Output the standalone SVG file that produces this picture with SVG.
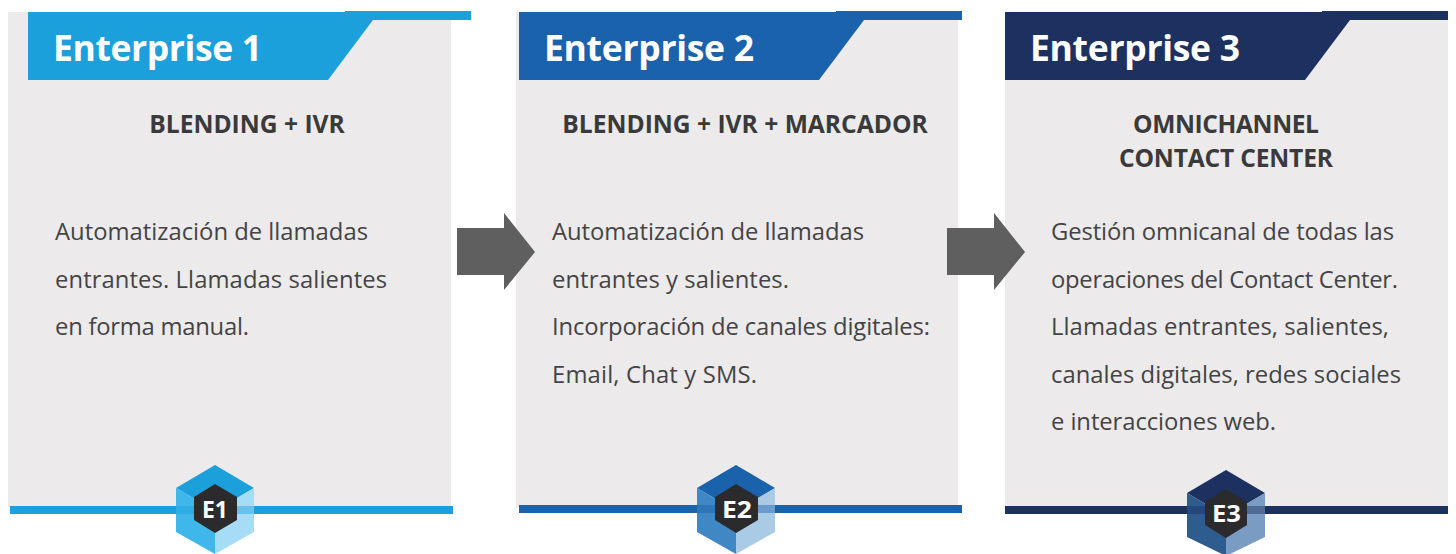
<svg xmlns="http://www.w3.org/2000/svg" width="1456" height="554" viewBox="0 0 1456 554">
<style>
.card{fill:#ECEAEB}
.h{font:700 35.5px "Open Sans","Liberation Sans",sans-serif;fill:#fff}
.s{font:700 24.6px "Open Sans","Liberation Sans",sans-serif;fill:#3a3a3a;text-anchor:middle}
.b{font:400 23.8px "Open Sans","Liberation Sans",sans-serif;fill:#444}
.e{font:700 24px "Open Sans","Liberation Sans",sans-serif;fill:#fff}
.a{fill:#5F5F5F}
.hx{fill:#2B2B2D}
</style>
<rect width="1456" height="554" fill="#fff"/>
<g id="enterprise-1">
<rect class="card" x="8" y="12" width="443" height="495"/>
<path fill="#1CA0DC" d="M28 12H345V11H471V20H373L328 80H28Z"/>
<rect fill="#1CA0DC" x="10" y="506" width="443" height="8"/>
<text class="h" x="53" y="61" textLength="209">Enterprise 1</text>
<text class="s" x="247" y="133">BLENDING + IVR</text>
<text class="b" x="55" y="240" textLength="313">Automatización de llamadas</text>
<text class="b" x="55" y="288" textLength="332">entrantes. Llamadas salientes</text>
<text class="b" x="55" y="335" textLength="194">en forma manual.</text>
<path fill="#1CA0DC" d="M215 465L254 488L215 511L176 488Z"/>
<path fill="#3FB7EA" d="M176 488L215 511V554L176 532Z"/>
<path fill="#A6DCF6" d="M254 488L215 511V554L254 532Z"/>
<rect fill="#1CA0DC" fill-opacity=".45" x="176" y="506" width="78" height="8"/>
<path class="hx" d="M215 484L237 497V520L215 533L194 520V497Z"/>
<text class="e" x="202" y="518" textLength="26" lengthAdjust="spacingAndGlyphs">E1</text>
</g>
<g id="enterprise-2">
<rect class="card" x="516" y="12" width="442" height="495"/>
<path fill="#1B62AC" d="M519 12H836V11H962V20H864L819 80H519Z"/>
<rect fill="#1B62AC" x="519" y="505" width="443" height="8"/>
<text class="h" x="544" y="61" textLength="210">Enterprise 2</text>
<text class="s" x="745" y="133">BLENDING + IVR + MARCADOR</text>
<text class="b" x="552" y="240" textLength="312">Automatización de llamadas</text>
<text class="b" x="552" y="288" textLength="237">entrantes y salientes.</text>
<text class="b" x="552" y="335" textLength="378">Incorporación de canales digitales:</text>
<text class="b" x="552" y="383" textLength="205">Email, Chat y SMS.</text>
<path fill="#1B62AC" d="M736 465L775 488L736 511L697 488Z"/>
<path fill="#4088C4" d="M697 488L736 511V554L697 532Z"/>
<path fill="#A9CBE5" d="M775 488L736 511V554L775 532Z"/>
<rect fill="#1B62AC" fill-opacity=".45" x="697" y="505" width="78" height="8"/>
<path class="hx" d="M736 484L758 497V520L736 533L715 520V497Z"/>
<text class="e" x="722" y="518" textLength="30" lengthAdjust="spacingAndGlyphs">E2</text>
</g>
<g id="enterprise-3">
<rect class="card" x="1005" y="12" width="443" height="495"/>
<path fill="#1D3160" d="M1005 12H1322V11H1448V20H1350L1305 80H1005Z"/>
<rect fill="#1D3160" x="1005" y="506" width="443" height="8"/>
<text class="h" x="1030" y="61" textLength="210">Enterprise 3</text>
<text class="s" x="1226" y="133" textLength="186">OMNICHANNEL</text>
<text class="s" x="1226" y="167" textLength="214">CONTACT CENTER</text>
<text class="b" x="1051" y="240" textLength="343">Gestión omnicanal de todas las</text>
<text class="b" x="1051" y="288" textLength="347">operaciones del Contact Center.</text>
<text class="b" x="1051" y="335" textLength="338">Llamadas entrantes, salientes,</text>
<text class="b" x="1051" y="383" textLength="350">canales digitales, redes sociales</text>
<text class="b" x="1051" y="430" textLength="225">e interacciones web.</text>
<path fill="#1D3160" d="M1226 470L1265 493L1226 516L1187 493Z"/>
<path fill="#2F5C8F" d="M1187 493L1226 516V554H1222L1187 537Z"/>
<path fill="#7B9CC2" d="M1265 493L1226 516V554H1230L1265 537Z"/>
<rect fill="#1D3160" fill-opacity=".45" x="1187" y="506" width="78" height="8"/>
<path class="hx" d="M1226 489L1247 502V525L1226 538L1205 525V502Z"/>
<text class="e" x="1212" y="522" textLength="29" lengthAdjust="spacingAndGlyphs">E3</text>
</g>
<g id="connectors">
<path class="a" d="M457 228H504V213L535 252L504 290V275H457Z"/>
<path class="a" d="M947 228H994V213L1025 252L994 290V275H947Z"/>
</g>
</svg>
